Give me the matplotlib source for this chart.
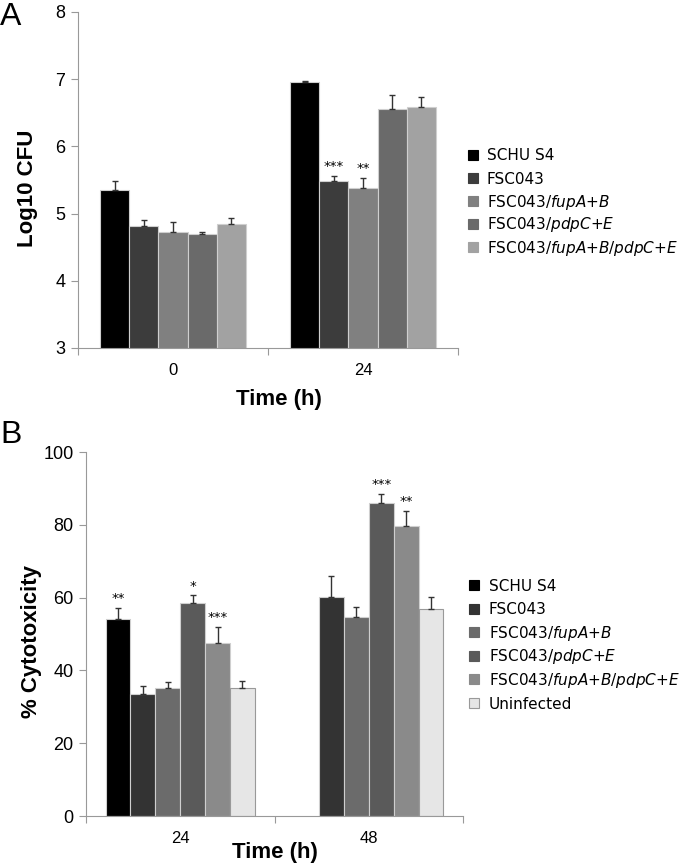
import numpy as np
import matplotlib.pyplot as plt
from matplotlib.lines import Line2D

plt.rcParams['font.family'] = ['Liberation Sans', 'DejaVu Sans']

# panel A data: log10 CFU
times_a = ['0', '24']
strains_a = ['SCHU S4', 'FSC043', 'FSC043/$\\mathit{fupA}$+$\\mathit{B}$',
             'FSC043/$\\mathit{pdpC}$+$\\mathit{E}$',
             'FSC043/$\\mathit{fupA}$+$\\mathit{B}$/$\\mathit{pdpC}$+$\\mathit{E}$']
cfu_mean = [[5.35, 6.96], [4.82, 5.49], [4.73, 5.38], [4.69, 6.55], [4.85, 6.58]]
cfu_err = [[0.14, 0.02], [0.08, 0.07], [0.15, 0.15], [0.03, 0.21], [0.09, 0.15]]
stars_a = [['', ''], ['', '***'], ['', '**'], ['', ''], ['', '']]
colors_a = ['#000000', '#3c3c3c', '#808080', '#6a6a6a', '#a2a2a2']

# panel B data: % cytotoxicity
times_b = ['24', '48']
strains_b = strains_a + ['Uninfected']
cyto_mean = [[54.1, np.nan], [33.4, 60.1], [35.3, 54.6], [58.5, 85.9], [47.6, 79.6], [35.1, 57.0]]
cyto_err = [[3.1, 0], [2.3, 5.7], [1.4, 2.8], [2.1, 2.5], [4.4, 4.3], [1.9, 3.3]]
stars_b = [['**', ''], ['', ''], ['', ''], ['*', '***'], ['***', '**'], ['', '']]
colors_b = ['#000000', '#333333', '#6b6b6b', '#5a5a5a', '#8a8a8a', '#e6e6e6']

W, H = 680, 863
fig = plt.figure(figsize=(6.8, 8.63), dpi=100)
axA = fig.add_axes([78/W, 1-348/H, 380/W, 336/H])
axB = fig.add_axes([86/W, 1-816/H, 377/W, 364/H])


def draw(ax, labels, means, errs, stars, colors, width, ylim, yticks, ylabel):
    n = len(means)
    x = np.arange(len(labels))
    for i in range(n):
        pos = x + (i - (n - 1) / 2) * width
        m = np.array(means[i], dtype=float)
        e = np.array(errs[i], dtype=float)
        ec = '#999999' if colors[i] == '#e6e6e6' else '#cfcfcf'
        ax.bar(pos, m, width, color=colors[i], edgecolor=ec, linewidth=0.8, zorder=2)
        ok = ~np.isnan(m)
        ax.errorbar(pos[ok], m[ok], yerr=[np.zeros(ok.sum()), e[ok]], fmt='none',
                    ecolor='#333333', elinewidth=1, capsize=2.5, capthick=1, zorder=3)
        for j in range(len(labels)):
            if stars[i][j]:
                ax.annotate(stars[i][j], (pos[j], m[j] + e[j]), xytext=(0, 2),
                            textcoords='offset points', ha='center', va='bottom',
                            fontsize=9.5, family='DejaVu Sans')
    ax.set_xlim(-0.5, len(labels) - 0.5)
    ax.set_ylim(*ylim)
    ax.set_yticks(yticks)
    ax.set_xticks([-0.5, 0.5, 1.5])
    ax.set_xticklabels([])
    ax.set_xticks(x, minor=True)
    ax.set_xticklabels(labels, minor=True)
    ax.tick_params(axis='x', which='minor', length=0, labelsize=12, pad=11)
    ax.tick_params(axis='x', which='major', length=5, color='#999999')
    ax.tick_params(axis='y', length=5, color='#999999', labelsize=13, pad=4)
    for s in ['top', 'right']:
        ax.spines[s].set_visible(False)
    for s in ['left', 'bottom']:
        ax.spines[s].set_color('#999999')
    ax.set_ylabel(ylabel, fontsize=16, fontweight='bold')


draw(axA, times_a, cfu_mean, cfu_err, stars_a, colors_a, 0.153, (3, 8), range(3, 9), 'Log10 CFU')
draw(axB, times_b, cyto_mean, cyto_err, stars_b, colors_b, 0.132, (0, 100), range(0, 101, 20), '% Cytotoxicity')
axA.yaxis.set_label_coords(-0.105, 0.476)
axB.yaxis.set_label_coords(-0.116, 0.48)
axA.set_xlabel('Time (h)', fontsize=16, fontweight='bold')
axB.set_xlabel('Time (h)', fontsize=16, fontweight='bold')
axA.xaxis.set_label_coords(0.53, -0.122)
axB.xaxis.set_label_coords(0.50, -0.071)

fig.text(0.0, 1-2/H, 'A', fontsize=23, va='top', ha='left')
fig.text(0.0, 1-420/H, 'B', fontsize=23, va='top', ha='left')


# legend drawn row by row so the italic (mathtext) rows keep an even pitch
def legend(labels, colors, xm, xt, y0, pitch):
    for k, (lab, c) in enumerate(zip(labels, colors)):
        yc = y0 + k * pitch
        mec = '#999999' if c == '#e6e6e6' else c
        fig.add_artist(Line2D([xm/W], [1-yc/H], marker='s', linestyle='none', markersize=6.5,
                              markerfacecolor=c, markeredgecolor=mec, markeredgewidth=0.8,
                              transform=fig.transFigure))
        fig.text(xt/W, 1-(yc+5.5)/H, lab, va='baseline', ha='left',
                 family='DejaVu Sans', fontsize=11)


legend(strains_a, colors_a, 473, 487, 155, 23)
legend(strains_b, colors_b, 474, 489, 585, 23.6)

fig.savefig('out.png', dpi=100)
